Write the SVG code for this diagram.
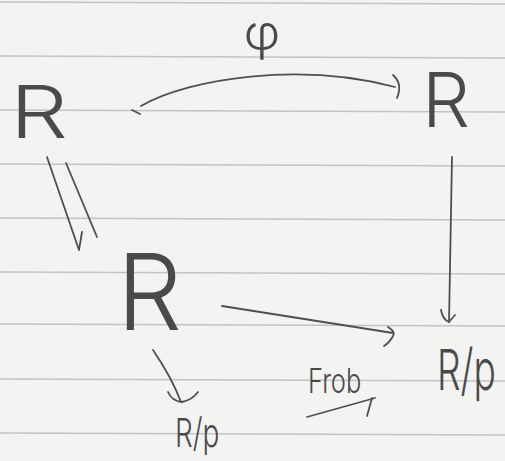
<svg xmlns="http://www.w3.org/2000/svg" width="505" height="461" viewBox="0 0 505 461">
<style>
  .paper { fill: #f3f3f1; }
  .rule { stroke: #c3c3c3; stroke-width: 1.3; fill: none; }
  .ink { fill: #4a4a4a; font-family: "Inter", "Lato", "Liberation Sans", sans-serif; font-weight: 300; }
  .stroke { stroke: #4f4f4f; stroke-width: 1.8; fill: none; stroke-linecap: round; stroke-linejoin: round; }
</style>
<rect class="paper" x="0" y="0" width="505" height="461"/>
<g id="rules">
  <line class="rule" x1="0" y1="2" x2="505" y2="4"/>
  <line class="rule" x1="0" y1="56" x2="505" y2="58"/>
  <line class="rule" x1="0" y1="110" x2="505" y2="112"/>
  <line class="rule" x1="0" y1="164" x2="505" y2="166"/>
  <line class="rule" x1="0" y1="218" x2="505" y2="220"/>
  <line class="rule" x1="0" y1="272" x2="505" y2="274"/>
  <line class="rule" x1="0" y1="324" x2="505" y2="326"/>
  <line class="rule" x1="0" y1="379" x2="505" y2="381"/>
  <line class="rule" x1="0" y1="433" x2="505" y2="435"/>
</g>
<g id="node-R-topleft">
  <text class="ink" x="10" y="138" font-size="73" textLength="58" lengthAdjust="spacingAndGlyphs">R</text>
</g>
<g id="node-R-topright">
  <text class="ink" x="422" y="127" font-size="75" textLength="48" lengthAdjust="spacingAndGlyphs">R</text>
</g>
<g id="node-R-middle">
  <text class="ink" x="117" y="330" font-size="106" textLength="65" lengthAdjust="spacingAndGlyphs">R</text>
</g>
<g id="node-Rp-right">
  <text class="ink" transform="translate(437,390) scale(0.93,1.42)" x="0" y="0" font-size="40">R/p</text>
</g>
<g id="node-Rp-bottom">
  <text class="ink" transform="translate(175,447) scale(0.7,1)" x="0" y="0" font-size="40">R/p</text>
</g>
<g id="connectors">
  <!-- phi arrow -->
  <path class="stroke" d="M141,106 C190,78 300,62 395,87"/>
  <path class="stroke" d="M132,110 L140,114"/>
  <path class="stroke" d="M393,75 Q403,84 397,98"/>
  <!-- double line (equality) -->
  <path class="stroke" d="M47,157 L79,250 L82,232"/>
  <path class="stroke" d="M66,163 L97,237"/>
  <!-- right vertical arrow -->
  <path class="stroke" d="M452,157 L449,322"/>
  <path class="stroke" d="M441,310 Q443,320 449,322 L455,315"/>
  <!-- middle R to right R/p -->
  <path class="stroke" d="M222,306 Q300,318 393,333"/>
  <path class="stroke" d="M388,327 Q396,332 393,336 Q390,342 384,346"/>
  <!-- middle R down to bottom R/p -->
  <path class="stroke" d="M153,350 Q172,378 181,402"/>
  <path class="stroke" d="M168,392 Q172,401 182,402 Q192,400 198,392"/>
  <!-- Frob arrow -->
  <path class="stroke" d="M307,417 L375,398"/>
  <path class="stroke" d="M372,398 L367,416"/>
</g>
<g id="labels">
  <text class="ink" x="262" y="50" font-size="50" text-anchor="middle">φ</text>
  <text class="ink" transform="translate(308,393) scale(0.75,1)" x="0" y="0" font-size="34">Frob</text>
</g>
</svg>
